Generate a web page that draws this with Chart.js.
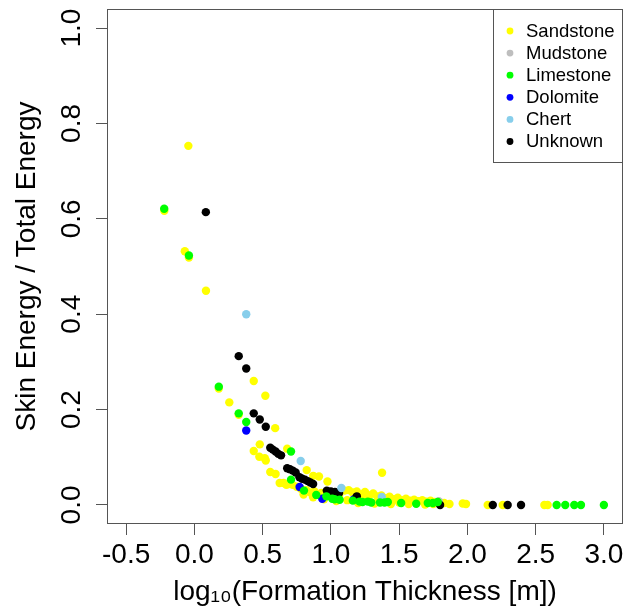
<!DOCTYPE html>
<html>
  <head>
    <title>Skin Energy vs Formation Thickness</title>
    <style>
      body { margin: 0; background: #ffffff; }
      #chartBox { width: 636px; height: 607px; }
    </style>
  </head>
  <body>
    <div id="chartBox"><canvas id="skinChart" width="636" height="607"></canvas></div>

    <script src="https://cdn.jsdelivr.net/npm/chart.js"></script>
    <script>
      // values
      const categories = ["Sandstone", "Mudstone", "Limestone", "Dolomite", "Chert", "Unknown"];

      const sandstoneX = [-0.22, -0.044, -0.07, -0.04, 0.085, 0.179, 0.256, 0.325, 0.435, 0.52,
        0.592, 0.479, 0.435, 0.476, 0.516, 0.523, 0.68, 0.556, 0.595, 0.823, 0.871, 0.913, 0.975,
        1.375, 0.625, 0.654, 0.674, 0.69, 0.72, 0.75, 0.78, 0.82, 0.85, 0.88, 0.9, 0.93, 0.96,
        1.0, 1.03, 1.06, 1.1, 1.13, 1.16, 1.19, 1.22, 1.25, 1.28, 1.31, 1.34, 1.37, 1.4, 1.43,
        1.46, 1.49, 1.52, 1.55, 1.58, 1.61, 1.64, 1.67, 1.7, 1.73, 1.76, 1.79, 1.83, 1.869,
        1.966, 1.99, 0.8, 0.87, 0.95, 1.04, 1.12, 1.2, 1.26, 1.32, 1.38, 1.44, 1.5, 1.57, 1.63,
        1.69, 1.75, 2.149, 2.259, 2.564, 2.588];
      const sandstoneY = [0.617, 0.753, 0.532, 0.519, 0.449, 0.244, 0.215, 0.189, 0.26, 0.229,
        0.161, 0.127, 0.113, 0.101, 0.098, 0.093, 0.118, 0.069, 0.065, 0.073, 0.061, 0.0595, 0.049,
        0.0675, 0.046, 0.046, 0.042, 0.044, 0.042, 0.038, 0.034, 0.031, 0.026, 0.028, 0.022, 0.025, 0.02,
        0.022, 0.018, 0.02, 0.03, 0.031, 0.026, 0.028, 0.022, 0.027, 0.02, 0.024, 0.018, 0.02, 0.014, 0.017,
        0.012, 0.015, 0.01, 0.013, 0.009, 0.011, 0.008, 0.01, 0.007, 0.009, 0.006, 0.005, 0.004, 0.002,
        0.003, 0.002, 0.022, 0.016, 0.012, 0.008, 0.01, 0.004, 0.012, 0.003, 0.008, 0.002, 0.005, 0.002, 0.004,
        0.001, 0.002, 0, 0, 0, 0];

      const mudstoneX = [1.79];
      const mudstoneY = [0.008];

      const limestoneX = [-0.221, -0.04, 0.179, 0.325, 0.38, 0.708, 0.708, 0.803, 0.893, 0.967,
        1.01, 1.027, 1.064, 1.161, 1.21, 1.232, 1.271, 1.296, 1.36, 1.393, 1.417, 1.515, 1.625,
        1.71, 1.747, 1.783, 2.654, 2.717, 2.783, 2.832, 3.0];
      const limestoneY = [0.621, 0.523, 0.248, 0.192, 0.174, 0.112, 0.053, 0.03, 0.021, 0.018,
        0.013, 0.012, 0.011, 0.009, 0.007, 0.006, 0.007, 0.005, 0.005, 0.005, 0.006, 0.004, 0.0025,
        0.004, 0.004, 0.006, 0, 0, 0, 0, 0];

      const dolomiteX = [0.38, 0.771, 0.937, 1.17];
      const dolomiteY = [0.156, 0.0375, 0.013, 0.012];

      const chertX = [0.38, 0.779, 1.077, 1.373];
      const chertY = [0.4, 0.092, 0.0354, 0.0166];

      const unknownX = [0.084, 0.325, 0.38, 0.435, 0.479, 0.523, 0.556, 0.575, 0.595, 0.615, 0.635,
        0.68, 0.7, 0.72, 0.742, 0.77, 0.79, 0.81, 0.83, 0.85, 0.87, 0.97, 1.0, 1.03, 1.06, 1.19,
        1.8, 2.186, 2.295, 2.393];
      const unknownY = [0.614, 0.312, 0.286, 0.192, 0.179, 0.164, 0.12, 0.116, 0.112, 0.107, 0.104,
        0.077, 0.075, 0.072, 0.068, 0.058, 0.055, 0.053, 0.05, 0.047, 0.044, 0.03, 0.028, 0.027, 0.025, 0.018,
        0.0, 0, 0, 0];

      const xTicks = [-0.5, 0, 0.5, 1, 1.5, 2, 2.5, 3];
      const yTicks = [0, 0.2, 0.4, 0.6, 0.8, 1];

      const seriesX = [sandstoneX, mudstoneX, limestoneX, dolomiteX, chertX, unknownX];
      const seriesY = [sandstoneY, mudstoneY, limestoneY, dolomiteY, chertY, unknownY];
      const pointColors = ["#ffff00", "#bebebe", "#00ff00", "#0000ff", "#87ceeb", "#000000"];
      // lower order is painted on top
      const paintOrder = [6, 5, 1, 4, 2, 3];

      const fontFamily = "'Liberation Sans', Arial, sans-serif";
      const frameColor = "#555555";

      const datasets = categories.map((name, i) => ({
        label: name,
        data: seriesX[i].map((x, j) => ({ x: x, y: seriesY[i][j] })),
        backgroundColor: pointColors[i],
        borderWidth: 0,
        pointRadius: 4.2,
        pointHoverRadius: 4.2,
        order: paintOrder[i],
      }));

      // R style frame and the boxed key in the top right corner
      const frameAndKey = {
        id: "frameAndKey",
        afterDatasetsDraw(chart) {
          const { ctx, chartArea: a } = chart;
          ctx.save();
          ctx.strokeStyle = frameColor;
          ctx.lineWidth = 1;
          ctx.strokeRect(a.left + 0.5, a.top + 0.5, a.right - a.left - 1, a.bottom - a.top - 1);

          const keyLeft = a.right - 130;
          ctx.fillStyle = "#ffffff";
          ctx.fillRect(keyLeft + 0.5, a.top + 0.5, a.right - keyLeft - 1, 153);
          ctx.strokeRect(keyLeft + 0.5, a.top + 0.5, a.right - keyLeft - 1, 153);

          ctx.font = "18.5px " + fontFamily;
          ctx.textAlign = "left";
          ctx.textBaseline = "middle";
          chart.data.datasets.forEach((ds, i) => {
            const rowY = a.top + 22 + i * 22.1;
            ctx.fillStyle = ds.backgroundColor;
            ctx.beginPath();
            ctx.arc(keyLeft + 17, rowY, 3.4, 0, Math.PI * 2);
            ctx.fill();
            ctx.fillStyle = "#000000";
            ctx.fillText(ds.label, keyLeft + 33, rowY + 0.5);
          });
          ctx.restore();
        },
      };

      const tickFont = { family: fontFamily, size: 28, lineHeight: 1.2 };
      const titleFont = { family: fontFamily, size: 28, lineHeight: 1 };

      new Chart(document.getElementById("skinChart").getContext("2d"), {
        type: "scatter",
        data: { datasets: datasets },
        options: {
          responsive: false,
          animation: false,
          events: [],
          layout: { padding: { top: 9, right: 13, bottom: 0, left: 0 } },
          plugins: {
            legend: { display: false },
            tooltip: { enabled: false },
          },
          scales: {
            x: {
              type: "linear",
              min: -0.64,
              max: 3.14,
              afterBuildTicks: (s) => { s.ticks = xTicks.map((v) => ({ value: v })); },
              afterFit: (s) => {
                s.height = 83;
                s.paddingLeft = 0;
                s.paddingRight = 0;
              },
              border: { display: false },
              grid: { drawOnChartArea: false, drawTicks: true, tickLength: 11, tickColor: frameColor, tickWidth: 1 },
              ticks: {
                autoSkip: false,
                minRotation: 0,
                maxRotation: 0,
                padding: 3.5,
                color: "#000000",
                font: tickFont,
                callback: (v) => Number(v).toFixed(1),
              },
              title: {
                display: true,
                text: "log\u2081\u2080(Formation Thickness [m])",
                color: "#000000",
                font: titleFont,
                padding: { top: 0, bottom: 1 },
              },
            },
            y: {
              type: "linear",
              min: -0.04,
              max: 1.04,
              afterBuildTicks: (s) => { s.ticks = yTicks.map((v) => ({ value: v })); },
              afterFit: (s) => {
                s.width = 107;
                s.paddingTop = 0;
                s.paddingBottom = 0;
              },
              border: { display: false },
              grid: { drawOnChartArea: false, drawTicks: true, tickLength: 11, tickColor: frameColor, tickWidth: 1 },
              ticks: {
                autoSkip: false,
                minRotation: 90,
                maxRotation: 90,
                crossAlign: "center",
                padding: 4.5,
                color: "#000000",
                font: tickFont,
                callback: (v) => Number(v).toFixed(1),
              },
              title: {
                display: true,
                text: "Skin Energy / Total Energy",
                color: "#000000",
                font: titleFont,
                padding: { top: 13.5, bottom: 0 },
              },
            },
          },
        },
        plugins: [frameAndKey],
      });
    </script>
  </body>
</html>
